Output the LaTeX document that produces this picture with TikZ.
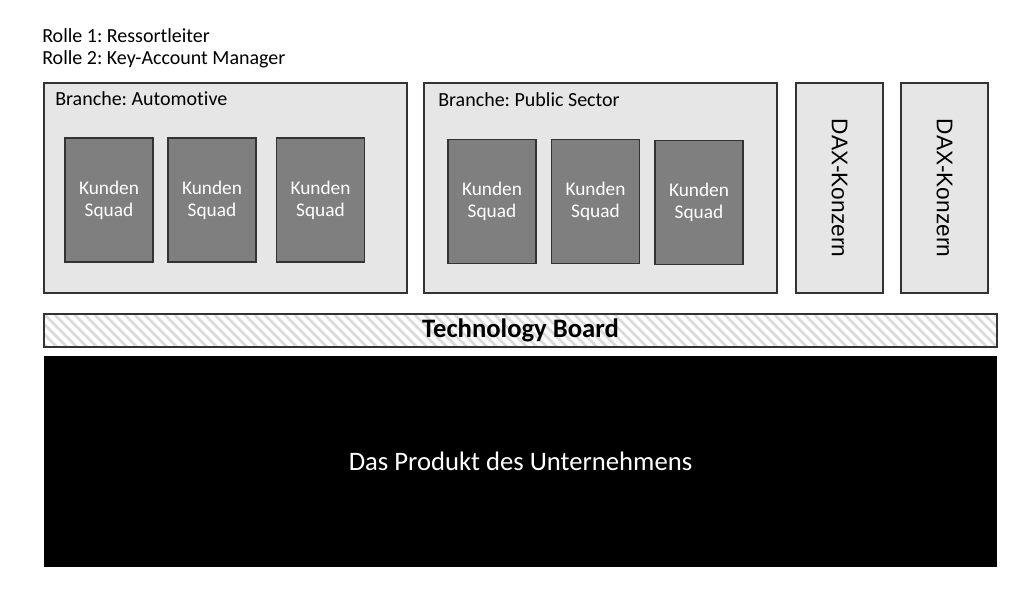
\documentclass[tikz,border=0pt]{standalone}
\usepackage{fontspec}
\setmainfont{Carlito}[Ligatures=NoCommon]
\newfontfamily\arialfont{Liberation Sans}
\usepackage{tikz}
\usetikzlibrary{backgrounds}
\definecolor{boxgray}{RGB}{231,230,230}
\definecolor{squadgray}{RGB}{127,127,127}
\definecolor{hatchgray}{RGB}{218,218,218}
\frenchspacing

\begin{document}
\begin{tikzpicture}[x=0.75pt, y=-0.75pt,
	every node/.style={inner sep=0pt, font=\fontsize{15}{18}\selectfont},
	branch/.style={draw=black!80, fill=boxgray, line width=0.9pt},
	squad/.style={draw=black!80, fill=squadgray, line width=0.9pt, text=white, align=center,
		font=\fontsize{14.5}{16.5}\selectfont, minimum width=66pt, minimum height=93pt},
	dax/.style={branch, rotate=-90, minimum width=157.5pt, minimum height=65.25pt,
		font=\arialfont\fontsize{17}{20}\selectfont},
	wide/.style={minimum width=714.75pt}]

\useasboundingbox (0,0) rectangle (1024,591);

% Roles
\node[anchor=base west] (rolle1) at (42,43) {Rolle 1: Ressortleiter};
\node[anchor=base west] (rolle2) at (42,65) {Rolle 2: Key-Account Manager};

% Branches
\node[branch, minimum width=272.25pt, minimum height=157.5pt] (auto) at (225.5,188) {};
\node[anchor=base west] (autolabel) at (55,106) {Branche: Automotive};
\node[branch, minimum width=264.75pt, minimum height=157.5pt] (public) at (600.5,188) {};
\node[anchor=base west] (publiclabel) at (438,107) {Branche: Public Sector};

% Squads (Automotive)
\foreach \i/\x in {1/109, 2/212, 3/320.5} {
	\node[squad] (auto\i) at (\x,200) {Kunden\\Squad};
}

% Squads (Public Sector)
\foreach \i/\x/\y in {1/492/201.5, 2/595.5/201.5, 3/699/202.5} {
	\node[squad] (public\i) at (\x,\y) {Kunden\\Squad};
}

% DAX companies
\foreach \i/\x in {1/839.5, 2/944.5} {
	\node[dax] (dax\i) at (\x,188) {DAX-Konzern};
}

% Technology board with hatching
\node[wide, draw=black!80, line width=0.9pt, minimum height=24.75pt,
	font=\bfseries\fontsize{20}{24}\selectfont] (tech) at (520.5,330.5) {Technology Board};
\begin{scope}[on background layer]
	\clip (tech.south west) rectangle (tech.north east);
	\foreach \x in {0,10,...,1000} {
		\draw[hatchgray, line width=2pt] (\x,300) -- (\x+60,360);
	}
\end{scope}

% Product
\node[wide, fill=black, minimum height=158.25pt, text=white,
	font=\fontsize{20}{24}\selectfont] (produkt) at (520.5,461.5) {Das Produkt des Unternehmens};

\end{tikzpicture}
\end{document}
